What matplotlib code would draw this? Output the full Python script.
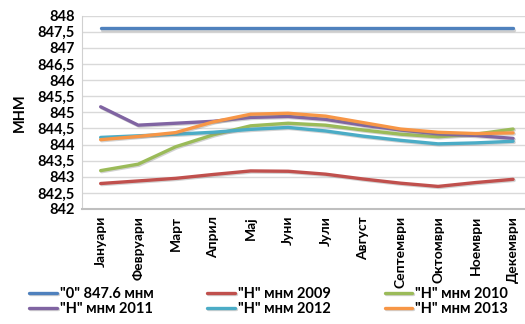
import matplotlib.pyplot as plt
import matplotlib.patheffects as pe
from matplotlib import font_manager as fm
import numpy as np

bold_path = fm.findfont(fm.FontProperties(family='Lato', weight='bold'))

def bfont(size):
    return fm.FontProperties(fname=bold_path, size=size)

months = ['Јануари', 'Февруари', 'Март', 'Април', 'Мај', 'Јуни', 'Јули',
          'Август', 'Септември', 'Октомври', 'Ноември', 'Декември']

zero_level = [847.6] * 12
h2009 = [842.79, 842.87, 842.95, 843.07, 843.18, 843.17, 843.08, 842.93, 842.80, 842.70, 842.82, 842.92]
h2010 = [843.19, 843.39, 843.93, 844.30, 844.58, 844.66, 844.60, 844.45, 844.32, 844.24, 844.32, 844.48]
h2011 = [845.17, 844.60, 844.66, 844.72, 844.84, 844.87, 844.78, 844.60, 844.45, 844.33, 844.28, 844.19]
h2012 = [844.22, 844.27, 844.32, 844.38, 844.47, 844.53, 844.42, 844.26, 844.13, 844.02, 844.05, 844.10]
h2013 = [844.15, 844.25, 844.37, 844.70, 844.94, 844.97, 844.88, 844.68, 844.48, 844.38, 844.34, 844.36]

series = [
    ('"0" 847.6 мнм', zero_level, '#4F81BD'),
    ('"Н" мнм 2009', h2009, '#C0504D'),
    ('"Н" мнм 2010', h2010, '#9BBB59'),
    ('"Н" мнм 2011', h2011, '#8064A2'),
    ('"Н" мнм 2012', h2012, '#4BACC6'),
    ('"Н" мнм 2013', h2013, '#F79646'),
]

fig = plt.figure(figsize=(5.25, 3.24), dpi=100)
ax = fig.add_axes([0.156, 0.355, 0.857, 0.597])

x = np.arange(len(months))
shadow = [pe.SimpleLineShadow(offset=(0.8, -0.8), shadow_color='#808080', alpha=0.35), pe.Normal()]
lines = {}
for name, vals, col in series:
    ln, = ax.plot(x, vals, color=col, lw=2.4, label=name, path_effects=shadow,
                  solid_capstyle='round')
    lines[name] = ln

ax.set_xlim(-0.5, 11.5)
ax.set_ylim(842, 848)
yt = np.arange(842, 848.01, 0.5)
ax.set_yticks(yt)
ax.set_yticklabels([f'{v:g}'.replace('.', ',') for v in yt], fontproperties=bfont(10.5))
ax.set_xticks(x)
ax.set_xticklabels(months, rotation=90, fontproperties=bfont(10))
ax.tick_params(axis='both', length=0, pad=5)
ax.grid(axis='y', color='#D9D9D9', lw=1)
ax.set_axisbelow(True)
for s in ['top', 'right']:
    ax.spines[s].set_visible(False)
ax.spines['left'].set_color('#D0D0D0')
ax.spines['bottom'].set_color('#BFBFBF')
ax.spines['bottom'].set_linewidth(1.5)
ax.set_ylabel('МНМ', fontproperties=bfont(10.5), labelpad=8)

# row-wise order for a 3-column legend
order = [0, 3, 1, 4, 2, 5]
handles = [lines[series[i][0]] for i in order]
labels = [series[i][0] for i in order]
fig.legend(handles, labels, loc='lower left', bbox_to_anchor=(0.03, -0.015), ncol=3,
           frameon=False, prop=bfont(10.5),
           handlelength=1.9, handletextpad=0.2, columnspacing=3.7, labelspacing=0.05)

plt.savefig('out.png', dpi=100)
